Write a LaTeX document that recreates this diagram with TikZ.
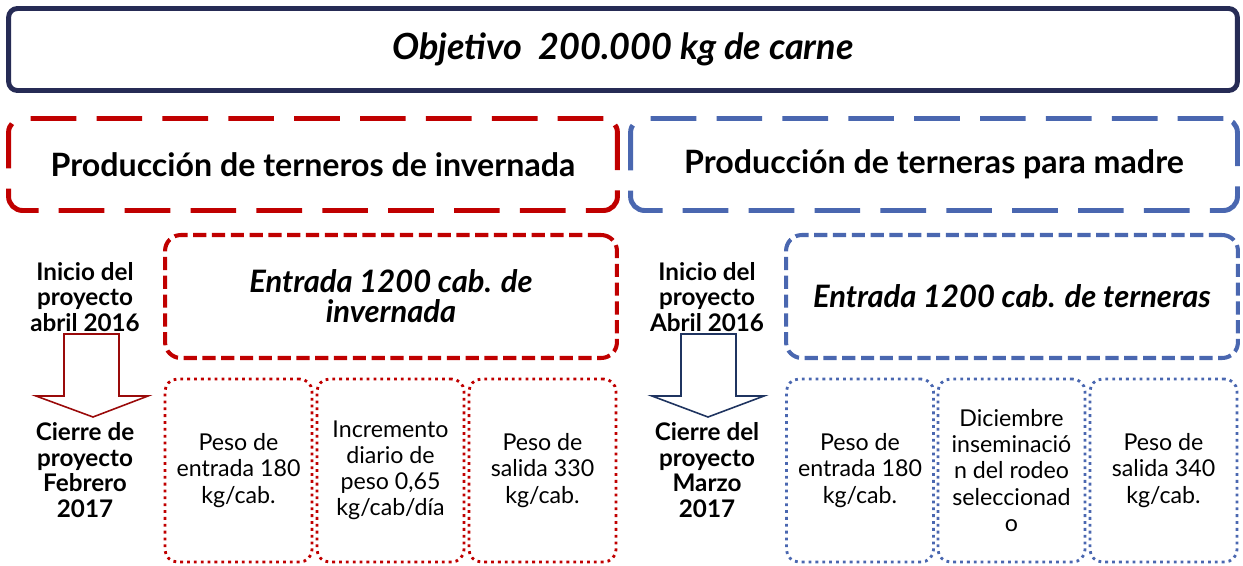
\documentclass[tikz,border=0pt]{standalone}
\usepackage{fontspec}
\setmainfont{Lato}
\definecolor{navy}{HTML}{262B55}
\definecolor{wine}{HTML}{C00000}
\definecolor{steel}{HTML}{4A67B0}
\definecolor{darkwine}{HTML}{9A0A0A}
\definecolor{darknavy}{HTML}{1F3460}

\begin{document}
\begin{tikzpicture}[x=0.02cm,y=-0.02cm,
    goal/.style = {draw=navy, line width=2.8pt, rounded corners=5pt, minimum width=24.58cm, minimum height=1.64cm, font=\bfseries\itshape\fontsize{20.5}{24}\selectfont},
    hdr/.style = {line width=2.8pt, dash pattern=on 26pt off 11.5pt, rounded corners=8pt, minimum height=1.84cm, font=\bfseries\fontsize{18.3}{22}\selectfont},
    entry/.style = {line width=2.3pt, dash pattern=on 7.5pt off 3.2pt, rounded corners=9pt, minimum width=9.04cm, minimum height=2.46cm, align=center, font=\bfseries\itshape\fontsize{17.6}{17}\selectfont},
    item/.style = {line width=1.6pt, dash pattern=on 1.6pt off 2.3pt, rounded corners=7pt, minimum width=2.94cm, minimum height=3.66cm, align=center, font=\fontsize{13.2}{14.9}\selectfont},
    lbl/.style = {align=center, font=\bfseries\fontsize{13.8}{14.6}\selectfont},
    blockarrow/.style = {line width=0.9pt, fill=white}]
    \useasboundingbox (0,0) rectangle (1243,565);

    \node[goal] (0) at (623,49.5) {Objetivo\ \ 200.000 kg de carne};

    % invernada
    \node[hdr, draw=wine, minimum width=12.18cm] (1) at (313,164.5) {Producción de terneros de invernada};
    \node[entry, draw=wine] (2) at (391,296.5) {Entrada 1200 cab. de\\invernada};
    \node[item, draw=wine] (3) at (238.5,470.5) {Peso de\\entrada 180\\kg/cab.};
    \node[item, draw=wine] (4) at (390.5,470.5) {Incremento\\diario de\\peso 0,65\\kg/cab/día};
    \node[item, draw=wine] (5) at (542.5,470.5) {Peso de\\salida 330\\kg/cab.};
    \node[lbl] (6) at (85,297) {Inicio del\\proyecto\\abril 2016};
    \node[lbl] (7) at (85,470) {Cierre de\\proyecto\\Febrero\\2017};
    \draw[blockarrow, draw=darkwine] (64,334) -- (119,334) -- (119,396) -- (148,396) -- (93,417) -- (36,396) -- (64,396) -- cycle;

    % terneras
    \node[hdr, draw=steel, minimum width=12.14cm] (11) at (934,164.5) {Producción de terneras para madre};
    \node[entry, draw=steel] (22) at (1012,296.5) {Entrada 1200 cab. de terneras};
    \node[item, draw=steel] (33) at (860,470.5) {Peso de\\entrada 180\\kg/cab.};
    \node[item, draw=steel] (44) at (1011.5,470.5) {Diciembre\\inseminació\\n del rodeo\\seleccionad\\o};
    \node[item, draw=steel] (55) at (1163.5,470.5) {Peso de\\salida 340\\kg/cab.};
    \node[lbl] (66) at (707,297) {Inicio del\\proyecto\\Abril 2016};
    \node[lbl] (77) at (707,470) {Cierre del\\proyecto\\Marzo\\2017};
    \draw[blockarrow, draw=darknavy] (681,334) -- (736,334) -- (736,396) -- (764,396) -- (708,417) -- (652,396) -- (681,396) -- cycle;
\end{tikzpicture}
\end{document}
